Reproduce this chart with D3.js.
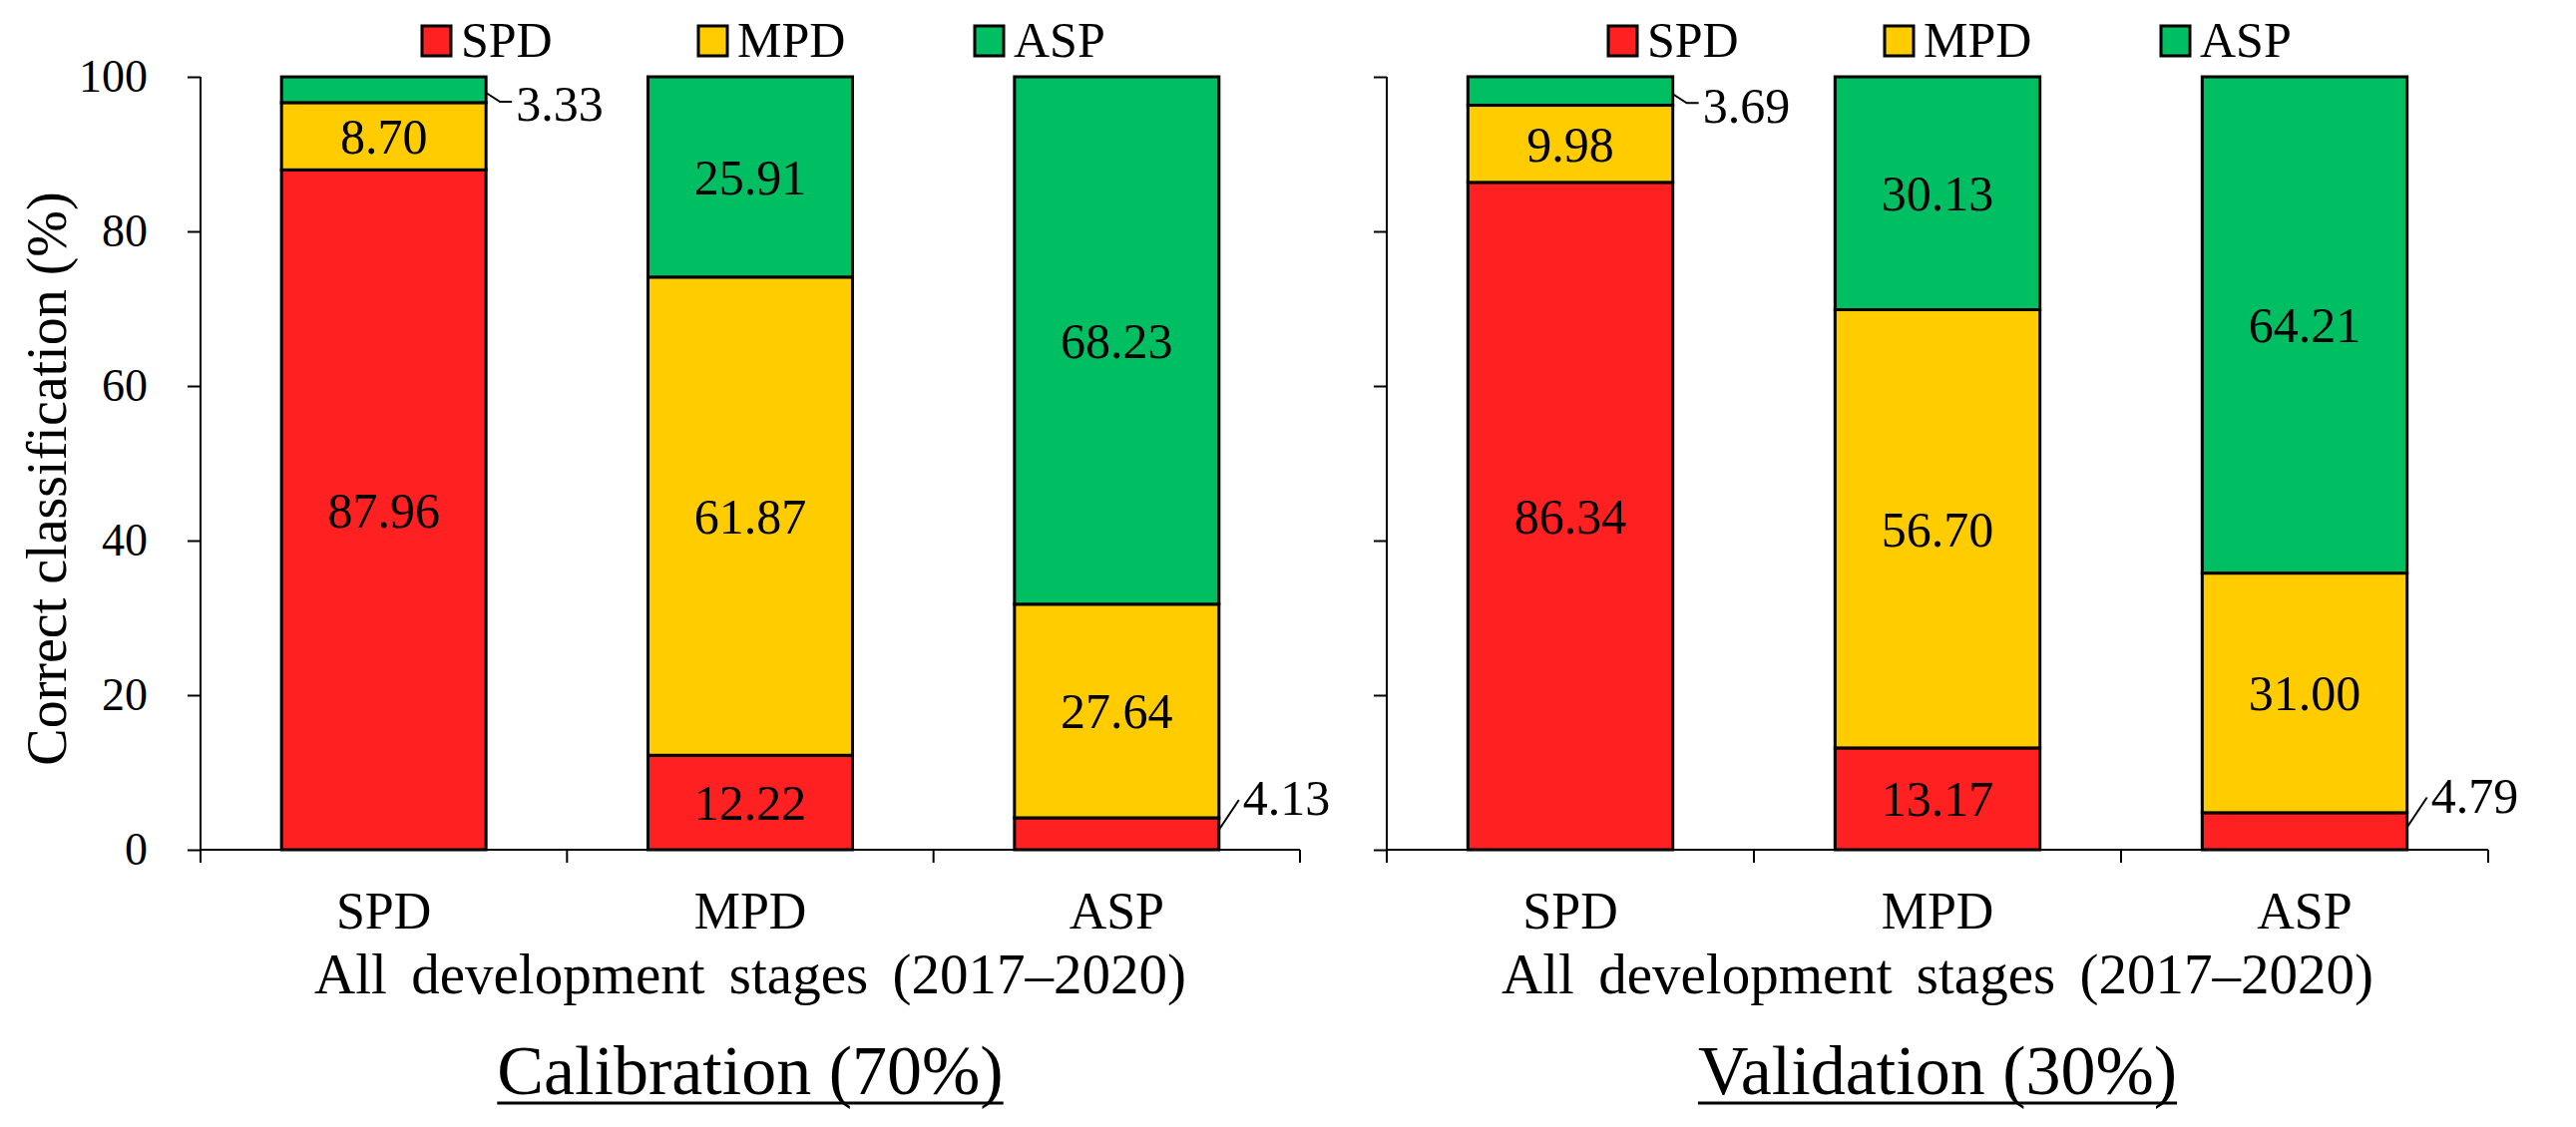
<html>
<head>
<meta charset="utf-8">
<script src="https://d3js.org/d3.v7.min.js"></script>
<style>
  body { margin: 0px; background: #fff; }
  text { font-family: "Liberation Serif", "Times New Roman", serif; fill: #000; }
  .axis path, .axis line { stroke: #000; stroke-width: 2px; }
  .axis text { font-size: 46px; font-family: "Liberation Serif", serif; }
  .seg { stroke: #000; stroke-width: 3px; }
  .lbl { font-size: 50px; }
  .cat { font-size: 52px; }
</style>
</head>
<body>
<svg width="2582" height="1130"></svg>
<script>
  var classes = ['SPD', 'MPD', 'ASP'];
  var classColors = ['#ff2121', '#ffcc00', '#00bf63'];
  var yTicks = [0, 20, 40, 60, 80, 100];
  var groupTitle = 'All development stages (2017–2020)';
  var yTitle = 'Correct classification (%)';

  // each column = reference class, values = share classified as SPD, MPD, ASP
  var calSPD = [87.96, 8.70, 3.33];
  var calMPD = [12.22, 61.87, 25.91];
  var calASP = [4.13, 27.64, 68.23];
  var valSPD = [86.34, 9.98, 3.69];
  var valMPD = [13.17, 56.70, 30.13];
  var valASP = [4.79, 31.00, 64.21];

  var panels = [
    { title: 'Calibration (70%)', cols: [calSPD, calMPD, calASP], x0: 201, x1: 1303, tickLabels: true },
    { title: 'Validation (30%)', cols: [valSPD, valMPD, valASP], x0: 1390, x1: 2494, tickLabels: false }
  ];

  var svg = d3.select('svg');
  var yScale = d3.scaleLinear().domain([0, 100]).range([852, 77]);
  var colorScale = d3.scaleOrdinal().domain(classes).range(classColors);
  var stack = d3.stack().keys(classes);

  // y axis title
  svg.append('text')
    .attr('transform', 'translate(66,480) rotate(-90)')
    .attr('text-anchor', 'middle')
    .style('font-size', '56px')
    .text(yTitle);

  panels.forEach(function (p) {
    var rows = classes.map(function (c, i) {
      var row = { cat: c };
      classes.forEach(function (k, j) { row[k] = p.cols[i][j]; });
      return row;
    });
    var stacked = stack(rows);

    var xScale = d3.scaleBand().domain(classes).range([p.x0, p.x1]);
    var barW = xScale.bandwidth() * 0.558;
    var barX = function (c) { return xScale(c) + (xScale.bandwidth() - barW) / 2; };

    var g = svg.append('g');

    // axes
    var yAxis = d3.axisLeft(yScale).tickValues(yTicks).tickSize(13).tickPadding(40);
    if (!p.tickLabels) yAxis.tickFormat('');
    g.append('g').attr('class', 'axis')
      .attr('transform', 'translate(' + p.x0 + ',0)')
      .call(yAxis)
      .call(function (a) { a.select('.domain').attr('d', 'M0,' + yScale(100) + 'V' + yScale(0)); });

    var xg = g.append('g').attr('class', 'axis')
      .attr('transform', 'translate(0,' + yScale(0) + ')');
    xg.append('path').attr('d', 'M' + p.x0 + ',0H' + p.x1);
    xg.selectAll('line').data(d3.range(classes.length + 1)).enter().append('line')
      .attr('x1', function (i) { return p.x0 + i * xScale.step(); })
      .attr('x2', function (i) { return p.x0 + i * xScale.step(); })
      .attr('y1', 0).attr('y2', 13);

    // bars
    var series = g.selectAll('.series').data(stacked).enter().append('g')
      .attr('fill', function (d) { return colorScale(d.key); });
    series.selectAll('rect').data(function (d) { return d; })
      .enter().append('rect')
      .attr('class', 'seg')
      .attr('x', function (d) { return barX(d.data.cat); })
      .attr('width', barW)
      .attr('y', function (d) { return yScale(d[1]); })
      .attr('height', function (d) { return yScale(d[0]) - yScale(d[1]); });

    // value labels, small segments get a leader line
    stacked.forEach(function (s) {
      s.forEach(function (d) {
        var v = d[1] - d[0];
        var mid = yScale((d[0] + d[1]) / 2);
        var right = barX(d.data.cat) + barW;
        var label = d.data[s.key].toFixed(2);
        if (v > 6) {
          g.append('text').attr('class', 'lbl')
            .attr('x', barX(d.data.cat) + barW / 2)
            .attr('y', mid).attr('dy', '0.35em')
            .attr('text-anchor', 'middle')
            .text(label);
        } else if (d[1] >= 99.9) {
          g.append('path').attr('fill', 'none').attr('stroke', '#000').attr('stroke-width', 2)
            .attr('d', 'M' + right + ',' + (mid + 3) + 'L' + (right + 14) + ',' + (mid + 12) + 'H' + (right + 26));
          g.append('text').attr('class', 'lbl')
            .attr('x', right + 30).attr('y', mid + 14).attr('dy', '0.35em')
            .text(label);
        } else {
          g.append('path').attr('fill', 'none').attr('stroke', '#000').attr('stroke-width', 2)
            .attr('d', 'M' + right + ',' + (mid - 4) + 'L' + (right + 20) + ',' + (mid - 34));
          g.append('text').attr('class', 'lbl')
            .attr('x', right + 24).attr('y', mid - 36).attr('dy', '0.35em')
            .text(label);
        }
      });
    });

    // category labels
    g.selectAll('.cat').data(classes).enter().append('text')
      .attr('class', 'cat')
      .attr('x', function (c) { return xScale(c) + xScale.bandwidth() / 2; })
      .attr('y', 931)
      .attr('text-anchor', 'middle')
      .text(function (c) { return c; });

    var cx = (p.x0 + p.x1) / 2;
    g.append('text')
      .attr('x', cx).attr('y', 996)
      .attr('text-anchor', 'middle')
      .style('font-size', '57px')
      .style('word-spacing', '10px')
      .text(groupTitle);

    var t = g.append('text')
      .attr('x', cx).attr('y', 1097)
      .attr('text-anchor', 'middle')
      .style('font-size', '70px')
      .text(p.title);
    var bb = t.node().getBBox();
    g.append('line')
      .attr('x1', bb.x).attr('x2', bb.x + bb.width)
      .attr('y1', 1106).attr('y2', 1106)
      .attr('stroke', '#000').attr('stroke-width', 3);

    // legend
    var legX = d3.scalePoint().domain(classes).range([p.x0 + 222, p.x0 + 776]);
    var leg = g.selectAll('.leg').data(classes).enter().append('g')
      .attr('transform', function (c) { return 'translate(' + legX(c) + ',26)'; });
    leg.append('rect').attr('width', 29).attr('height', 30)
      .attr('fill', function (c) { return colorScale(c); })
      .attr('stroke', '#000').attr('stroke-width', 3);
    leg.append('text').attr('x', 39).attr('y', 31)
      .style('font-size', '50px')
      .text(function (c) { return c; });
  });
</script>
</body>
</html>
